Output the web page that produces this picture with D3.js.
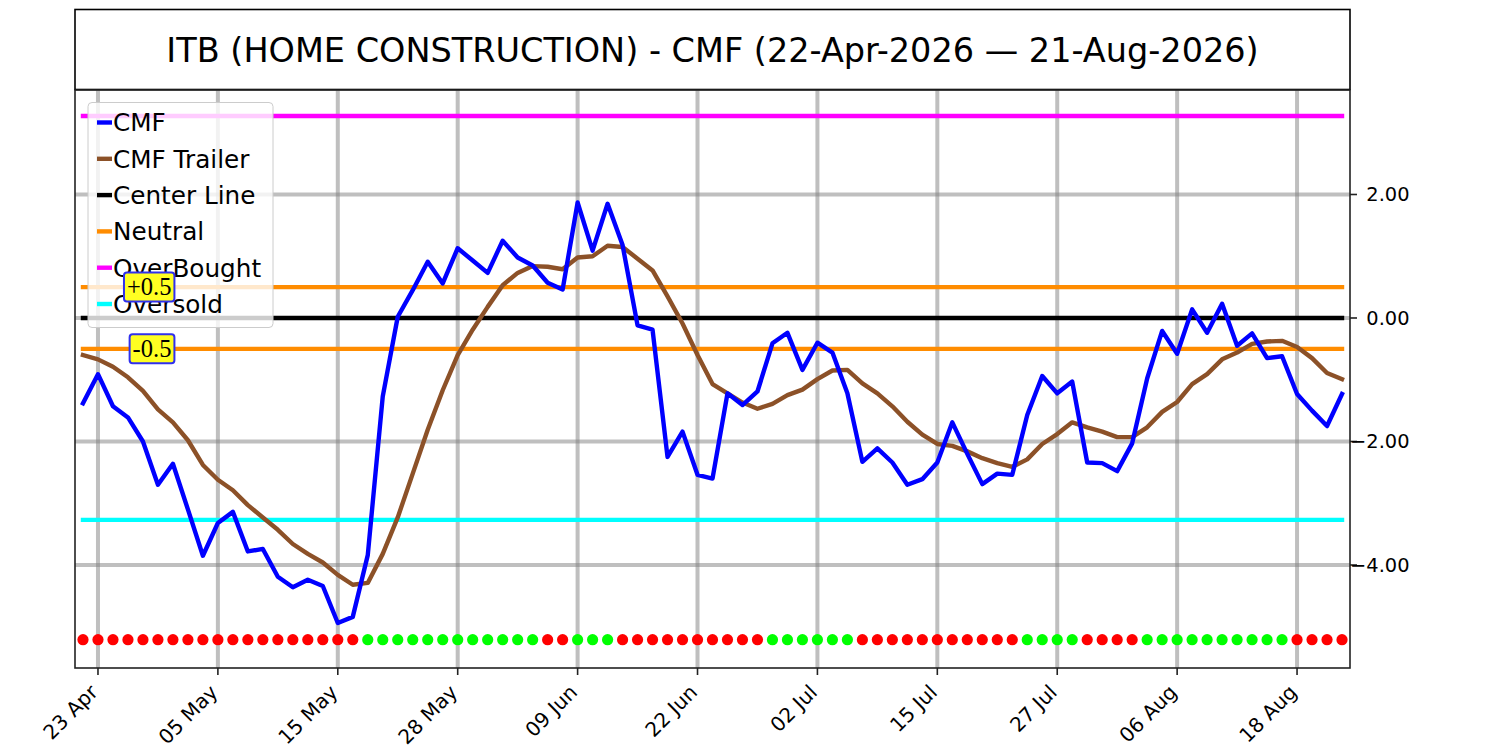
<!DOCTYPE html>
<html>
<head>
<meta charset="utf-8">
<script src="https://cdn.jsdelivr.net/npm/d3@7"></script>
<style>
  body { margin: 0; background: #fff; }
  svg { display: block; }
</style>
</head>
<body>
<svg id="chart" width="1500" height="750"></svg>
<script>
// CMF readings, one per trading day (22 Apr 2026 .. 21 Aug 2026)
const cmf = [
  -1.38, -0.91, -1.43, -1.61, -2.00, -2.70, -2.36, -3.10, -3.85, -3.32,
  -3.14, -3.78, -3.74, -4.19, -4.36, -4.24, -4.34, -4.94, -4.84, -3.84,
  -1.27, 0.02, 0.45, 0.91, 0.56, 1.13, 0.93, 0.73, 1.25, 0.98,
  0.85, 0.57, 0.46, 1.87, 1.09, 1.85, 1.18, -0.12, -0.19, -2.25,
  -1.84, -2.54, -2.60, -1.22, -1.41, -1.19, -0.41, -0.24, -0.84, -0.40,
  -0.56, -1.22, -2.33, -2.11, -2.34, -2.70, -2.61, -2.34, -1.69, -2.20,
  -2.69, -2.52, -2.54, -1.57, -0.94, -1.22, -1.03, -2.34, -2.35, -2.48,
  -2.03, -0.98, -0.21, -0.58, 0.14, -0.24, 0.23, -0.45, -0.25, -0.65,
  -0.62, -1.23, -1.50, -1.75, -1.23
]

// smoothed trailer
const trailer = [
  -0.60, -0.67, -0.79, -0.96, -1.18, -1.48, -1.69, -1.98, -2.38, -2.62,
  -2.79, -3.03, -3.23, -3.43, -3.66, -3.82, -3.96, -4.16, -4.32, -4.29,
  -3.82, -3.23, -2.52, -1.81, -1.17, -0.60, -0.19, 0.18, 0.53, 0.73,
  0.84, 0.83, 0.79, 0.98, 1.00, 1.17, 1.15, 0.96, 0.77, 0.35,
  -0.09, -0.60, -1.07, -1.22, -1.37, -1.47, -1.39, -1.25, -1.16, -0.99,
  -0.85, -0.84, -1.06, -1.22, -1.43, -1.68, -1.89, -2.04, -2.07, -2.16,
  -2.27, -2.35, -2.41, -2.29, -2.04, -1.88, -1.69, -1.77, -1.84, -1.93,
  -1.93, -1.77, -1.52, -1.36, -1.07, -0.91, -0.67, -0.56, -0.42, -0.38,
  -0.37, -0.47, -0.65, -0.89, -0.99
]

// signal dots along the bottom: 1 = green, 0 = red
const signal = [
  0, 0, 0, 0, 0, 0, 0, 0, 0, 0, 0, 0, 0, 0, 0, 0, 0, 0, 0,
  1, 1, 1, 1, 1, 1, 1, 1, 1, 1, 1, 1,
  0, 0,
  1, 1, 1,
  0, 0, 0, 0, 0, 0, 0, 0, 0, 0,
  1, 1, 1, 1, 1, 1,
  0, 0, 0, 0, 0, 0, 0, 0, 0, 0, 0,
  1, 1, 1, 1,
  0, 0, 0, 0,
  1, 1, 1, 1, 1, 1, 1, 1, 1, 1,
  0, 0, 0, 0
]
const signalLevel = -5.21

// x ticks (trading-day index -> label)
const tickIdx = [1, 9, 17, 25, 33, 41, 49, 57, 65, 73, 81]
const tickLabels = ["23 Apr", "05 May", "15 May", "28 May", "09 Jun", "22 Jun",
  "02 Jul", "15 Jul", "27 Jul", "06 Aug", "18 Aug"]
const yTicks = [2, 0, -2, -4]

// reference levels
const levels = [
  { name: "Center Line", value: 0, color: "#000000" },
  { name: "Neutral", value: 0.5, color: "#ff8c00" },
  { name: "Neutral", value: -0.5, color: "#ff8c00" },
  { name: "OverBought", value: 3.27, color: "#ff00ff" },
  { name: "Oversold", value: -3.27, color: "#00ffff" }
]
const legendItems = [
  { name: "CMF", color: "#0000ff" },
  { name: "CMF Trailer", color: "#8c5128" },
  { name: "Center Line", color: "#000000" },
  { name: "Neutral", color: "#ff8c00" },
  { name: "OverBought", color: "#ff00ff" },
  { name: "Oversold", color: "#00ffff" }
]
const notes = [{ text: "+0.5", value: 0.5 }, { text: "-0.5", value: -0.5 }]

const title = "ITB (HOME CONSTRUCTION) - CMF (22-Apr-2026 \u2014 21-Aug-2026)"

const plot = { left: 75, right: 1350, top: 90, bottom: 668 }
const sans = "'DejaVu Sans', sans-serif"
const lw = 4.4

let svg = d3.select("#chart")

let x = d3.scaleLinear().domain([-0.533, cmf.length - 1 + 0.533]).range([plot.left, plot.right])
let y = d3.scaleLinear().domain([-5.668, 3.692]).range([plot.bottom, plot.top])

//title box
svg.append("rect").attr("x", plot.left).attr("y", 9.5).attr("width", plot.right - plot.left).attr("height", 80)
  .attr("fill", "#fff").attr("stroke", "#000").attr("stroke-width", 1.6)
svg.append("text").attr("x", (plot.left + plot.right) / 2).attr("y", 61.5).attr("text-anchor", "middle")
  .attr("font-family", sans).attr("font-size", 33.5).attr("fill", "#000").text(title)

//grid
let grid = svg.append("g")
grid.selectAll("line.v").data(tickIdx).enter().append("line").attr("class", "v")
  .attr("x1", d => x(d)).attr("x2", d => x(d)).attr("y1", plot.top).attr("y2", plot.bottom)
  .attr("stroke", "#808080").attr("stroke-opacity", 0.5).attr("stroke-width", 4)
grid.selectAll("line.h").data(yTicks).enter().append("line").attr("class", "h")
  .attr("x1", plot.left).attr("x2", plot.right).attr("y1", d => y(d)).attr("y2", d => y(d))
  .attr("stroke", "#808080").attr("stroke-opacity", 0.5).attr("stroke-width", 4)

//reference lines
svg.append("g").selectAll("line").data(levels).enter().append("line")
  .attr("x1", x(0)).attr("x2", x(cmf.length - 1)).attr("y1", d => y(d.value)).attr("y2", d => y(d.value))
  .attr("stroke", d => d.color).attr("stroke-width", lw).attr("stroke-linecap", "square")

//series
let line = d3.line().x((d, i) => x(i)).y(d => y(d))
svg.append("path").datum(trailer).attr("d", line).attr("fill", "none").attr("stroke", "#8c5128")
  .attr("stroke-width", lw).attr("stroke-linejoin", "round").attr("stroke-linecap", "square")
svg.append("path").datum(cmf).attr("d", line).attr("fill", "none").attr("stroke", "#0000ff")
  .attr("stroke-width", lw).attr("stroke-linejoin", "round").attr("stroke-linecap", "square")

//signal dots
svg.append("g").selectAll("circle").data(signal).enter().append("circle")
  .attr("cx", (d, i) => x(i)).attr("cy", y(signalLevel)).attr("r", 5.6)
  .attr("fill", d => d ? "#00ff00" : "#ff0000")

//frame
svg.append("rect").attr("x", plot.left).attr("y", plot.top).attr("width", plot.right - plot.left)
  .attr("height", plot.bottom - plot.top).attr("fill", "none").attr("stroke", "#222").attr("stroke-width", 1.6)

//x axis
let xa = svg.append("g")
xa.selectAll("line").data(tickIdx).enter().append("line")
  .attr("x1", d => x(d)).attr("x2", d => x(d)).attr("y1", plot.bottom).attr("y2", plot.bottom + 7)
  .attr("stroke", "#222").attr("stroke-width", 1.6)
xa.selectAll("text").data(tickLabels).enter().append("text")
  .attr("transform", (d, i) => `translate(${x(tickIdx[i]) + 1},${plot.bottom + 25.5}) rotate(-45)`)
  .attr("text-anchor", "end").attr("font-family", sans).attr("font-size", 20.1).attr("fill", "#000")
  .text(d => d)

//y axis on the right
let ya = svg.append("g")
ya.selectAll("line").data(yTicks).enter().append("line")
  .attr("x1", plot.right).attr("x2", plot.right + 7).attr("y1", d => y(d)).attr("y2", d => y(d))
  .attr("stroke", "#222").attr("stroke-width", 1.6)
ya.selectAll("text").data(yTicks).enter().append("text")
  .attr("x", 1409.5).attr("y", d => y(d)).attr("dy", "0.36em").attr("text-anchor", "end")
  .attr("font-family", sans).attr("font-size", 19.4).attr("fill", "#000")
  .text(d => d3.format(".2f")(d).replace("-", "\u2212"))

//legend
let lg = svg.append("g")
lg.append("rect").attr("x", 88).attr("y", 102.5).attr("width", 185).attr("height", 225).attr("rx", 4)
  .attr("fill", "#fff").attr("fill-opacity", 0.8).attr("stroke", "#cccccc").attr("stroke-width", 1)
let rows = lg.selectAll("g").data(legendItems).enter().append("g")
  .attr("transform", (d, i) => `translate(0,${122.5 + i * 36.3})`)
rows.append("line").attr("x1", 97).attr("x2", 112).attr("y1", 0).attr("y2", 0)
  .attr("stroke", d => d.color).attr("stroke-width", lw)
rows.append("text").attr("x", 113).attr("y", 0).attr("dy", "0.36em")
  .attr("font-family", sans).attr("font-size", 24.7).attr("fill", "#000").text(d => d.name)

//level notes, on top of the legend as in the original
notes.forEach(n => {
  let g = svg.append("g")
  let t = g.append("text").attr("x", x(5.9)).attr("y", y(n.value)).attr("dy", "0.33em")
    .attr("text-anchor", "end").attr("font-family", "'Liberation Serif', 'Times New Roman', serif")
    .attr("font-size", 24.5).attr("fill", "#000").text(n.text)
  let b = t.node().getBBox()
  g.insert("rect", "text").attr("x", b.x - 3).attr("y", y(n.value) - 14.5).attr("width", b.width + 6)
    .attr("height", 29).attr("rx", 3).attr("fill", "#ffff22").attr("stroke", "#3030ee").attr("stroke-width", 2)
})
</script>
</body>
</html>
